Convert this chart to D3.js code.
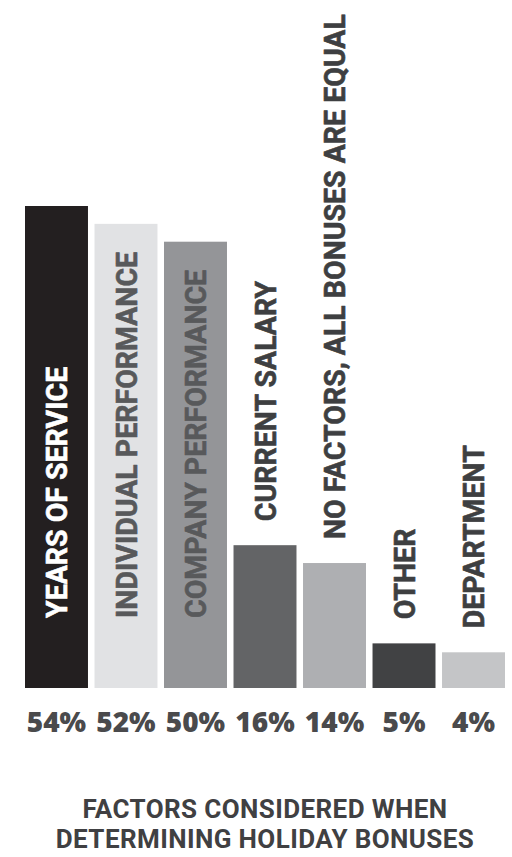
<!DOCTYPE html>
<html>
<head>
<meta charset="utf-8">
<script src="https://cdn.jsdelivr.net/npm/d3@7"></script>
<style>
  html, body { margin: 0; padding: 0; background: #fff; }
  svg { display: block; }
</style>
</head>
<body>
<svg id="chart" width="512" height="857"></svg>
<script>
// ---- data ----
const categories = [
  "YEARS OF SERVICE",
  "INDIVIDUAL PERFORMANCE",
  "COMPANY PERFORMANCE",
  "CURRENT SALARY",
  "NO FACTORS, ALL BONUSES ARE EQUAL",
  "OTHER",
  "DEPARTMENT"
];
const values = [54, 52, 50, 16, 14, 5, 4];
const valueLabels = ["54%", "52%", "50%", "16%", "14%", "5%", "4%"];
const titleLines = ["FACTORS CONSIDERED WHEN", "DETERMINING HOLIDAY BONUSES"];

// ---- styles ----
const barColors = ["#231f20", "#e1e2e4", "#949598", "#636466", "#aeafb2", "#414244", "#c4c5c7"];
const insideTextColors = ["#ffffff", "#58595b", "#58595b", "#ffffff", "#ffffff", "#ffffff", "#ffffff"];
const outsideTextColor = "#3e3f41";

const svg = d3.select("#chart");
const baseY = 688;
const x = d3.scaleBand().domain(categories).range([25, 505]).paddingInner(0.094).paddingOuter(0);
const y = d3.scaleLinear().domain([0, 54]).range([baseY, 206]);

const data = categories.map((c, i) => ({ cat: c, value: values[i], label: valueLabels[i], i }));

// bars
svg.append("g").selectAll("rect").data(data).join("rect")
  .attr("x", d => x(d.cat))
  .attr("y", d => y(d.value))
  .attr("width", x.bandwidth())
  .attr("height", d => baseY - y(d.value))
  .attr("fill", d => barColors[d.i]);

// rotated category labels (condensed along their length)
const labelFont = 30;
const squeeze = 0.95;
const capH = labelFont * 0.711;
const insideStart = baseY - 70;
const outsideGap = 24;
const lg = svg.append("g");
data.forEach(d => {
  const cx = x(d.cat) + x.bandwidth() / 2;
  const t = lg.append("text")
    .attr("font-family", "Roboto, sans-serif")
    .attr("font-weight", 700)
    .attr("font-size", labelFont)
    .attr("text-anchor", "start")
    .text(d.cat);
  const len = t.node().getComputedTextLength() * squeeze;
  const barTop = y(d.value);
  const inside = (insideStart - barTop) >= len + 10;
  const sy = inside ? insideStart : barTop - outsideGap;
  const col = inside ? insideTextColors[d.i] : outsideTextColor;
  t.attr("transform", `translate(${cx + capH / 2},${sy}) rotate(-90) scale(${squeeze},1)`)
   .attr("fill", col)
   .attr("stroke", col)
   .attr("stroke-width", 0.6)
   .attr("stroke-linejoin", "round");
});

// value labels
svg.append("g").selectAll("text").data(data).join("text")
  .attr("x", d => x(d.cat) + x.bandwidth() / 2)
  .attr("y", 732)
  .attr("text-anchor", "middle")
  .attr("font-family", "'Open Sans', Lato, sans-serif")
  .attr("font-weight", 800)
  .attr("font-size", 28)
  .attr("fill", "#4a4a4c")
  .text(d => d.label);

// title
const cxAll = (x.range()[0] + x.range()[1]) / 2;
svg.append("g").selectAll("text").data(titleLines).join("text")
  .attr("x", cxAll)
  .attr("y", (d, i) => 818 + i * 30)
  .attr("text-anchor", "middle")
  .attr("font-family", "Roboto, sans-serif")
  .attr("font-weight", 700)
  .attr("font-size", 26)
  .attr("letter-spacing", 0.4)
  .attr("fill", "#404042")
  .text(d => d);
</script>
</body>
</html>
